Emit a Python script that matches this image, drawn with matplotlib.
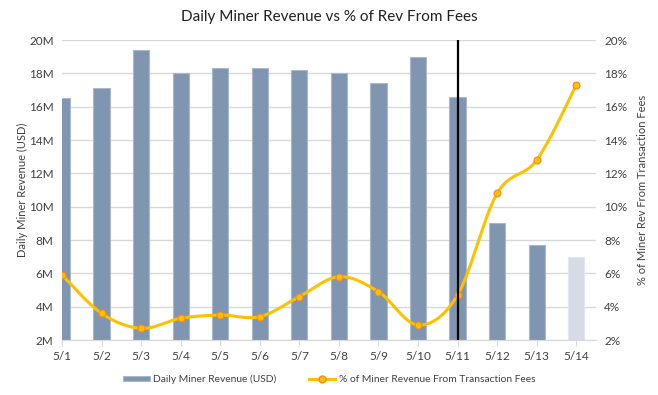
import matplotlib.pyplot as plt
import numpy as np
from matplotlib.ticker import FuncFormatter

plt.rcParams['font.family'] = ['Lato', 'DejaVu Sans']

# data
days = ['5/1', '5/2', '5/3', '5/4', '5/5', '5/6', '5/7', '5/8', '5/9', '5/10',
        '5/11', '5/12', '5/13', '5/14']
revenue_m = [16.5, 17.1, 19.4, 18.0, 18.3, 18.3, 18.2, 18.0, 17.4, 19.0,
             16.6, 9.0, 7.7, 7.0]
fee_pct = [5.9, 3.6, 2.7, 3.3, 3.5, 3.4, 4.6, 5.8, 4.9, 2.9,
           4.7, 10.8, 12.8, 17.3]
marker_day = '5/11'


def smooth(x, y, n=30):
    # Catmull-Rom style smoothing, similar to Excel's smoothed line
    x = np.asarray(x, float)
    y = np.asarray(y, float)
    px = np.concatenate([[x[0]], x, [x[-1]]])
    py = np.concatenate([[y[0]], y, [y[-1]]])
    xs, ys = [], []
    t = np.linspace(0, 1, n)
    for i in range(1, len(px) - 2):
        p0, p1, p2, p3 = [np.array([px[j], py[j]]) for j in range(i - 1, i + 3)]
        c1 = p1 + (p2 - p0) / 6
        c2 = p2 - (p3 - p1) / 6
        pts = ((1 - t)[:, None] ** 3 * p1 + 3 * ((1 - t) ** 2 * t)[:, None] * c1
               + 3 * ((1 - t) * t ** 2)[:, None] * c2 + (t ** 3)[:, None] * p2)
        xs.extend(pts[:, 0])
        ys.extend(pts[:, 1])
    return np.array(xs), np.array(ys)


x = np.arange(len(days))
bar_colors = ['#8096b0'] * (len(days) - 1) + ['#d6dce5']
edge_colors = ['#a9b8ca'] * (len(days) - 1) + ['#e3e7ee']

fig = plt.figure(figsize=(6.58, 3.95), dpi=100)
ax = fig.add_axes([0.0942, 0.1392, 0.8116, 0.7595])
ax2 = ax.twinx()

bars = ax.bar(x, revenue_m, width=0.41, color=bar_colors, edgecolor=edge_colors,
              linewidth=0.8, label='Daily Miner Revenue (USD)', zorder=2)
ax.set_ylim(2, 20)
ax.set_yticks(np.arange(2, 21, 2))
ax.yaxis.set_major_formatter(FuncFormatter(lambda v, _: f'{v:.0f}M'))
ax.set_xlim(0, 13.5)
ax.set_xticks(x)
ax.set_xticklabels(days)
ax.grid(axis='y', color='#d9d9d9', linewidth=1, zorder=0)
ax.set_axisbelow(True)
ax.set_ylabel('Daily Miner Revenue (USD)', fontsize=8, color='#404040', labelpad=1)

sx, sy = smooth(x, fee_pct)
ax2.plot(sx, sy, color='#ffc000', linewidth=2.2, zorder=3)
ax2.plot(x, fee_pct, linestyle='none', marker='o', markersize=5,
         markerfacecolor='#ffc000', markeredgecolor='#f08a2c',
         markeredgewidth=0.8, zorder=4)
ax2.set_ylim(2, 20)
ax2.set_yticks(np.arange(2, 21, 2))
ax2.yaxis.set_major_formatter(FuncFormatter(lambda v, _: f'{v:.0f}%'))
ax2.set_ylabel('% of Miner Rev From Transaction Fees', fontsize=8, color='#404040',
               labelpad=7)

# vertical marker line
ax2.axvline(days.index(marker_day), color='black', linewidth=1.6, zorder=5)

for a in (ax, ax2):
    for s in ('top', 'left', 'right'):
        a.spines[s].set_visible(False)
    a.spines['bottom'].set_color('#d9d9d9')
    a.tick_params(axis='y', length=0, labelsize=8.5, colors='#404040', pad=6)
ax.tick_params(axis='x', length=4, color='#d9d9d9', labelsize=8.5,
               labelcolor='#404040', pad=4)

fig.suptitle('Daily Miner Revenue vs % of Rev From Fees', fontsize=11,
             color='#202020', y=0.975)

line_handle, = ax.plot([], [], color='#ffc000', linewidth=2.2, marker='o',
                       markersize=5, markerfacecolor='#ffc000',
                       markeredgecolor='#f08a2c')
fig.legend([bars, line_handle],
           ['Daily Miner Revenue (USD)', '% of Miner Revenue From Transaction Fees'],
           loc='center', bbox_to_anchor=(0.5, 0.04), ncol=2, frameon=False,
           fontsize=7.4, handlelength=2.6, columnspacing=3.2, handleheight=0.45,
           handletextpad=0.3, labelcolor='#404040')

fig.savefig('out.png', dpi=100)
